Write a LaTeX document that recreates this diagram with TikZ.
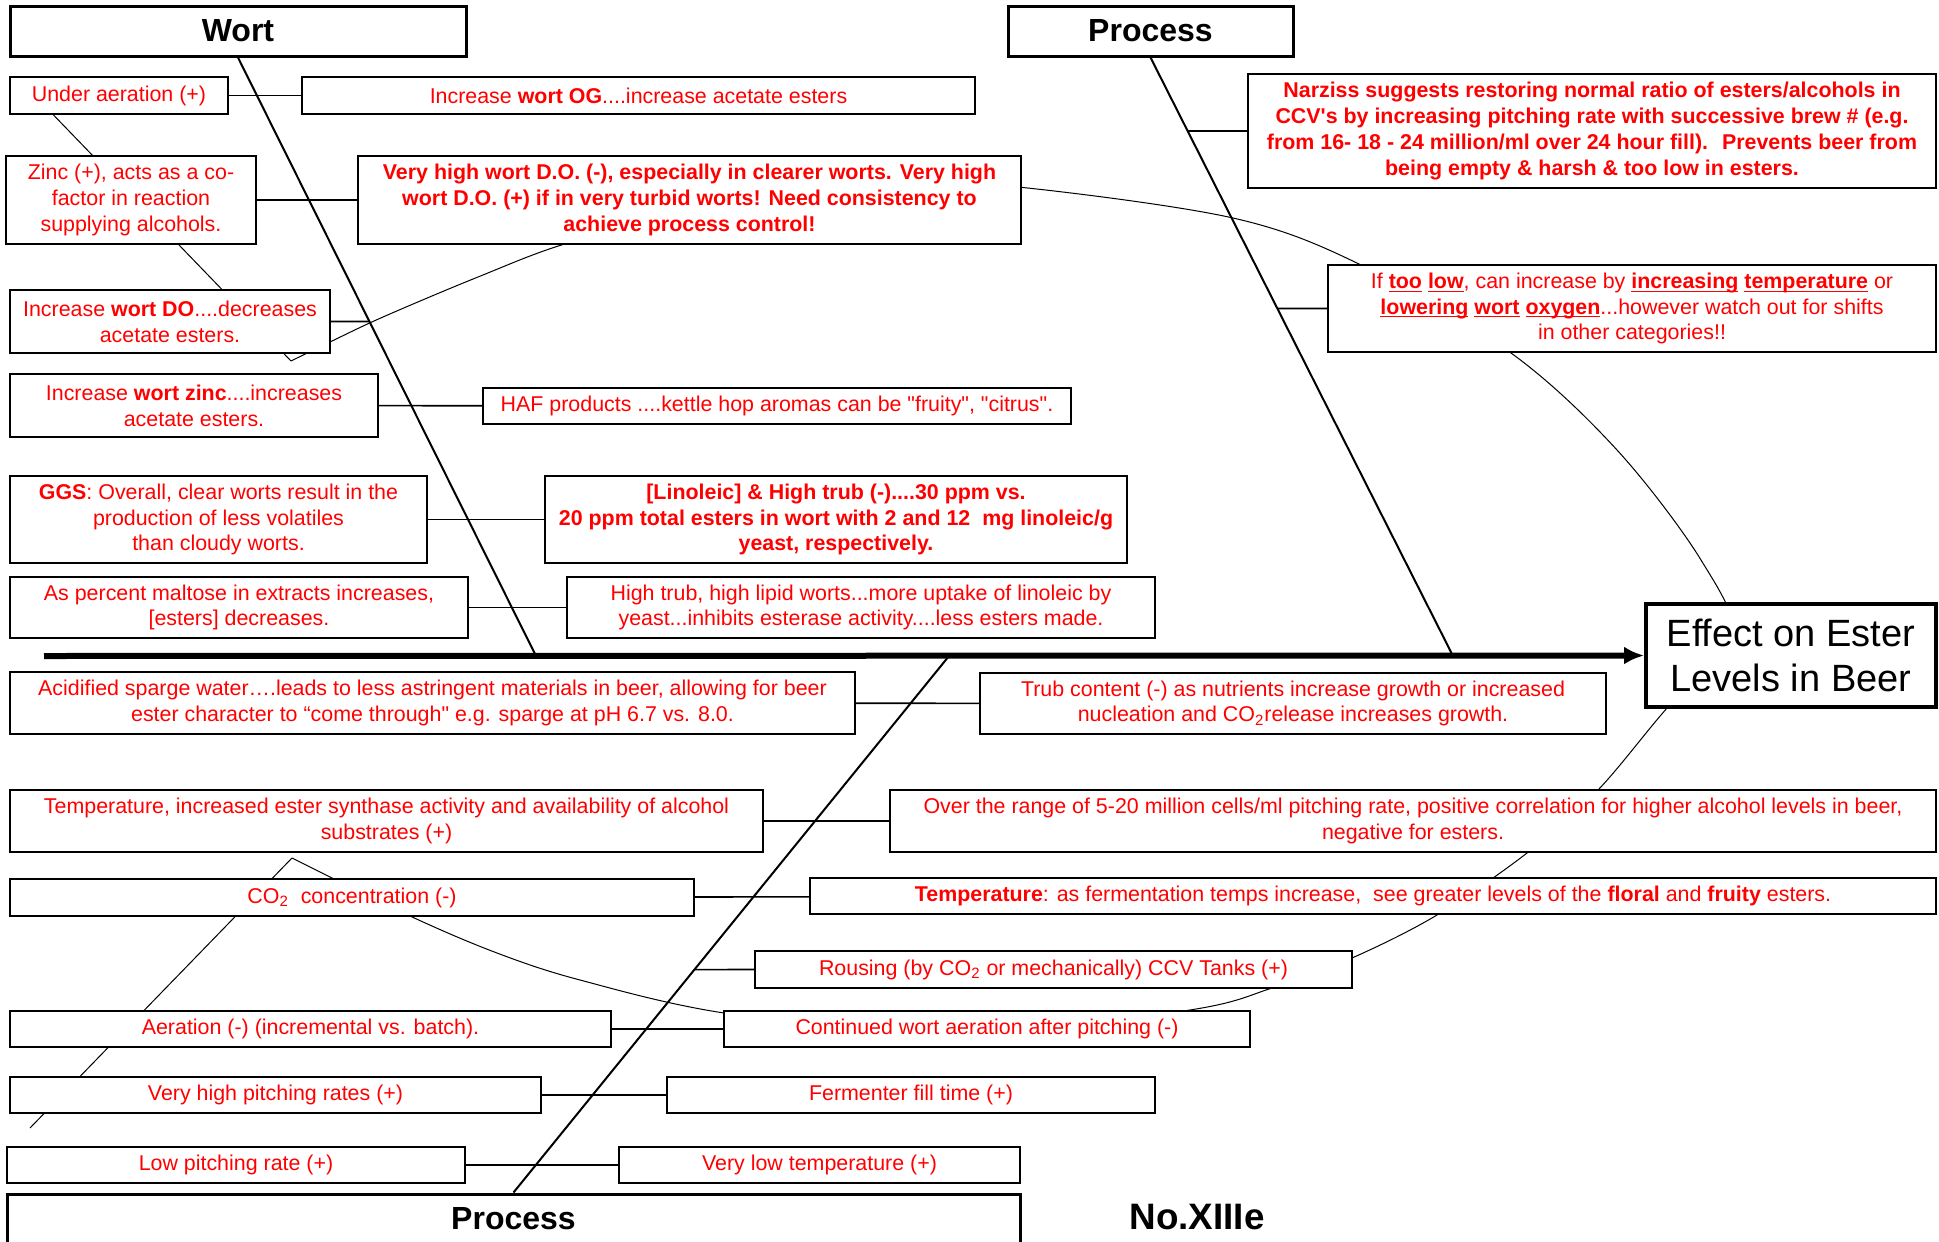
\documentclass[tikz,border=0pt]{standalone}
\usepackage{fontspec}
\setmainfont{Liberation Sans}[Ligatures = TeXOff]
\usepackage{tikz}
\usetikzlibrary{arrows.meta, backgrounds}
\tikzstyle{cause} = [rectangle, draw = black, line width = 0.7pt, fill = white, text = red, align = center, inner sep = 0pt, font = \fontsize{10.7}{12.9}\selectfont]
\tikzstyle{head} = [rectangle, draw = black, line width = 1.5pt, fill = white, font = \bfseries\fontsize{16}{19}\selectfont]
\tikzstyle{bone} = [draw = black, line width = 1pt]
\tikzstyle{twig} = [draw = black, line width = 0.8pt]
\tikzstyle{fish} = [draw = black, line width = 0.5pt]
\newcommand{\ulbold}[1]{\underline{\smash{\textbf{#1}}}}
\newcommand{\dq}{\symbol{34}}

\begin{document}
\begin{tikzpicture}[x = 0.5pt, y = -0.5pt]
\useasboundingbox (0,0) rectangle (1939,1242);

% headers and effect
\node (wort) [head, minimum width = 228pt, minimum height = 25pt] at (238,31) {Wort};
\node (proc1) [head, minimum width = 142.5pt, minimum height = 25pt] at (1150.5,31) {Process};
\node (proc2) [head, minimum width = 506.5pt, minimum height = 25pt] at (513.5,1219) {Process};
\node (effect) [head, line width = 2pt, font = \fontsize{19}{22.5}\selectfont, align = center, minimum width = 145pt, minimum height = 51.5pt] at (1791,655.5) {Effect on Ester\\Levels in Beer};
\node (num) [font = \bfseries\fontsize{18.4}{22}\selectfont] at (1197,1217) {No.XIIIe};

% wort side
\node (aer) [cause, minimum width = 109pt, minimum height = 18.5pt] at (119,95.5) {Under aeration (+)};
\node (og) [cause, minimum width = 336.5pt, minimum height = 18.5pt] at (638.5,95.5) {Increase \textbf{wort OG}....increase acetate esters};
\node (zinc) [cause, minimum width = 125pt, minimum height = 44pt] at (131,200) {Zinc (+), acts as a co-\\factor in reaction\\supplying alcohols.};
\node (vhdo) [cause, font = \bfseries\fontsize{10.7}{12.9}\selectfont, minimum width = 331.5pt, minimum height = 44pt] at (689.5,200) {Very high wort D.O. (-), especially in clearer worts. Very high\\wort D.O. (+) if in very turbid worts! Need consistency to\\achieve process control!};
\node (wdo) [cause, minimum width = 160pt, minimum height = 31.5pt] at (170,321.5) {Increase \textbf{wort DO}....decreases\\acetate esters.};
\node (wzinc) [cause, minimum width = 184pt, minimum height = 31.5pt] at (194,405.5) {Increase \textbf{wort zinc}....increases\\acetate esters.};
\node (haf) [cause, minimum width = 294pt, minimum height = 18pt] at (777,406) {HAF products ....kettle hop aromas can be \dq fruity\dq, \dq citrus\dq.};
\node (ggs) [cause, minimum width = 208.5pt, minimum height = 43.5pt] at (218.5,519.5) {\textbf{GGS}: Overall, clear worts result in the\\production of less volatiles\\than cloudy worts.};
\node (lino) [cause, font = \bfseries\fontsize{10.7}{12.9}\selectfont, minimum width = 291pt, minimum height = 43.5pt] at (836,519.5) {[Linoleic] \& High trub (-)....30 ppm vs.\\20 ppm total esters in wort with 2 and 12~ mg linoleic/g\\yeast, respectively.};
\node (malt) [cause, minimum width = 229pt, minimum height = 30.5pt] at (239,607.5) {As percent maltose in extracts increases,\\{[esters]} decreases.};
\node (htrub) [cause, minimum width = 294pt, minimum height = 30.5pt] at (861,607.5) {High trub, high lipid worts...more uptake of linoleic by\\yeast...inhibits esterase activity....less esters made.};

% upper process side
\node (narz) [cause, font = \bfseries\fontsize{10.7}{12.9}\selectfont, minimum width = 344pt, minimum height = 57pt] at (1592,131) {Narziss suggests restoring normal ratio of esters/alcohols in\\CCV's by increasing pitching rate with successive brew \# (e.g.\\from 16- 18 - 24 million/ml over 24 hour fill).~ Prevents beer from\\being empty \& harsh \& too low in esters.};
\node (toolow) [cause, minimum width = 304pt, minimum height = 43.5pt] at (1632,308.5) {If \ulbold{too} \ulbold{low}, can increase by \ulbold{increasing} \ulbold{temperature} or\\\ulbold{lowering} \ulbold{wort} \ulbold{oxygen}...however watch out for shifts\\in other categories!!};

% lower process side
\node (acid) [cause, minimum width = 422.5pt, minimum height = 31pt] at (432.5,703) {Acidified sparge water….leads to less astringent materials in beer, allowing for beer\\ester character to “come through\dq{} e.g. sparge at pH 6.7 vs. 8.0.};
\node (trubc) [cause, minimum width = 313pt, minimum height = 30.5pt] at (1293,703.5) {Trub content (-) as nutrients increase growth or increased\\nucleation and CO\textsubscript{2}release increases growth.};
\node (tempsyn) [cause, minimum width = 376.5pt, minimum height = 31pt] at (386.5,821) {Temperature, increased ester synthase activity and availability of alcohol\\substrates (+)};
\node (range) [cause, minimum width = 523pt, minimum height = 31pt] at (1413,821) {Over the range of 5-20 million cells/ml pitching rate, positive correlation for higher alcohol levels in beer,\\negative for esters.};
\node (co2) [cause, minimum width = 342pt, minimum height = 18.5pt] at (352,897.5) {CO\textsubscript{2}~ concentration (-)};
\node (tempf) [cause, minimum width = 563pt, minimum height = 18pt] at (1373,896) {\textbf{Temperature}: as fermentation temps increase,~ see greater levels of the \textbf{floral} and \textbf{fruity} esters.};
\node (rous) [cause, minimum width = 298.5pt, minimum height = 18.5pt] at (1053.5,969.5) {Rousing (by CO\textsubscript{2} or mechanically) CCV Tanks (+)};
\node (aera) [cause, minimum width = 300.5pt, minimum height = 18pt] at (310.5,1029) {Aeration (-) (incremental vs. batch).};
\node (cont) [cause, minimum width = 263pt, minimum height = 18pt] at (987,1029) {Continued wort aeration after pitching (-)};
\node (vhp) [cause, minimum width = 265.5pt, minimum height = 18pt] at (275.5,1095) {Very high pitching rates (+)};
\node (fill) [cause, minimum width = 244pt, minimum height = 18pt] at (911,1095) {Fermenter fill time (+)};
\node (lowp) [cause, minimum width = 229pt, minimum height = 18pt] at (236,1165) {Low pitching rate (+)};
\node (vlt) [cause, minimum width = 200.5pt, minimum height = 18pt] at (819.5,1165) {Very low temperature (+)};

\coordinate (tail) at (44,656);
\coordinate (w0) at (536,656);
\coordinate (p0) at (1453,656);
\coordinate (q0) at (949,656);

\begin{scope}[on background layer]
% the fish
\draw[fish] (40,101) -- (291,361);
\draw[fish] plot[smooth, tension = 0.55] coordinates {(291,361) (330,342) (383,317) (478,277) (568,243) (700,211) (891,183) (1018,187) (1233,218) (1361,265) (1511,353) (1617,450) (1701,560) (1733,640) (1668,707) (1598,790) (1527,853) (1437,915) (1352,958) (1272,988) (1190,1010) (957,1038) (724,1013) (580,980) (497,953) (410,916) (292,858)};
\draw[fish] (292,858) -- (30,1128);

% spine and bones
\draw[line width = 3pt, -{Latex[length = 10pt, width = 9pt]}] (tail) -- (effect.west);
\draw[bone] (wort.south) -- (w0);
\draw[bone] (proc1.south) -- (p0);
\draw[bone] (proc2.north) -- (q0);

% twigs
\draw[twig] (aer) -- (og);
\draw[twig] (zinc) -- (vhdo);
\draw[twig] (wdo.east) -- (intersection of wort.south--w0 and wdo.east--wdo.west);
\draw[twig] (wzinc) -- (haf);
\draw[twig] (ggs) -- (lino);
\draw[twig] (malt) -- (htrub);
\draw[twig] (narz.west) -- (intersection of proc1.south--p0 and narz.east--narz.west);
\draw[twig] (toolow.west) -- (intersection of proc1.south--p0 and toolow.east--toolow.west);
\draw[twig] (acid) -- (trubc);
\draw[twig] (tempsyn) -- (range);
\draw[twig] (co2) -- (tempf);
\draw[twig] (rous.west) -- (intersection of proc2.north--q0 and rous.east--rous.west);
\draw[twig] (aera) -- (cont);
\draw[twig] (vhp) -- (fill);
\draw[twig] (lowp) -- (vlt);
\end{scope}
\end{tikzpicture}
\end{document}
